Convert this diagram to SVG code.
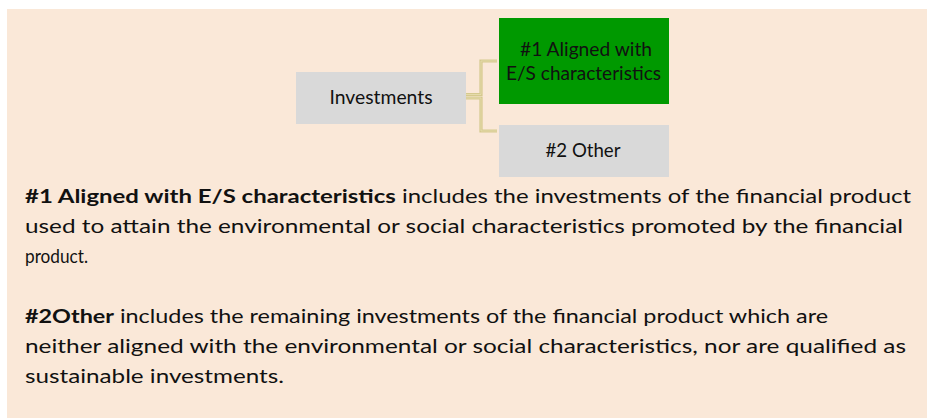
<svg xmlns="http://www.w3.org/2000/svg" width="927" height="418" viewBox="0 0 927 418">
<style>
.t{font-family:Lato,"Open Sans","Liberation Sans",sans-serif;font-size:19.5px;fill:#111}
.c{text-anchor:middle}
.b{font-weight:bold}
.conn{fill:none;stroke:#D5C98D;stroke-width:3.2}
.conn2{fill:none;stroke:#E9E0B3;stroke-width:0.8}
</style>
<rect x="0" y="0" width="927" height="418" fill="#ffffff"/>
<rect x="7" y="9" width="920" height="409" fill="#FAE8D8"/>
<g id="connectors">
<path class="conn" d="M466,94.5 H481 V61 H497"/>
<path class="conn" d="M466,98 H481 V131 H497"/>
<path class="conn2" d="M466,94.5 H481 V61 H497"/>
<path class="conn2" d="M466,98 H481 V131 H497"/>
</g>
<g id="investments">
<rect x="296" y="72" width="170" height="52" fill="#D9D9D9"/>
<text class="t c" x="381" y="104" textLength="103" lengthAdjust="spacingAndGlyphs">Investments</text>
</g>
<g id="aligned">
<rect x="499" y="18" width="170" height="86" fill="#009900"/>
<text class="t c" x="586" y="56" textLength="132" lengthAdjust="spacingAndGlyphs">#1 Aligned with</text>
<text class="t c" x="583.5" y="80" textLength="155" lengthAdjust="spacingAndGlyphs">E/S characteristics</text>
</g>
<g id="other">
<rect x="499" y="125" width="170" height="52" fill="#D9D9D9"/>
<text class="t c" x="583" y="157" textLength="75" lengthAdjust="spacingAndGlyphs">#2 Other</text>
</g>
<g id="description">
<text class="t" x="25" y="203" textLength="886" lengthAdjust="spacingAndGlyphs"><tspan class="b">#1 Aligned with E/S characteristics</tspan> includes the investments of the financial product</text>
<text class="t" x="25" y="233" textLength="878" lengthAdjust="spacingAndGlyphs">used to attain the environmental or social characteristics promoted by the financial</text>
<text class="t" x="25" y="263" textLength="63" lengthAdjust="spacingAndGlyphs">product.</text>
<text class="t" x="25" y="323" textLength="803" lengthAdjust="spacingAndGlyphs"><tspan class="b">#2Other</tspan> includes the remaining investments of the financial product which are</text>
<text class="t" x="25" y="353" textLength="881" lengthAdjust="spacingAndGlyphs">neither aligned with the environmental or social characteristics, nor are qualified as</text>
<text class="t" x="25" y="383" textLength="259" lengthAdjust="spacingAndGlyphs">sustainable investments.</text>
</g>
</svg>
